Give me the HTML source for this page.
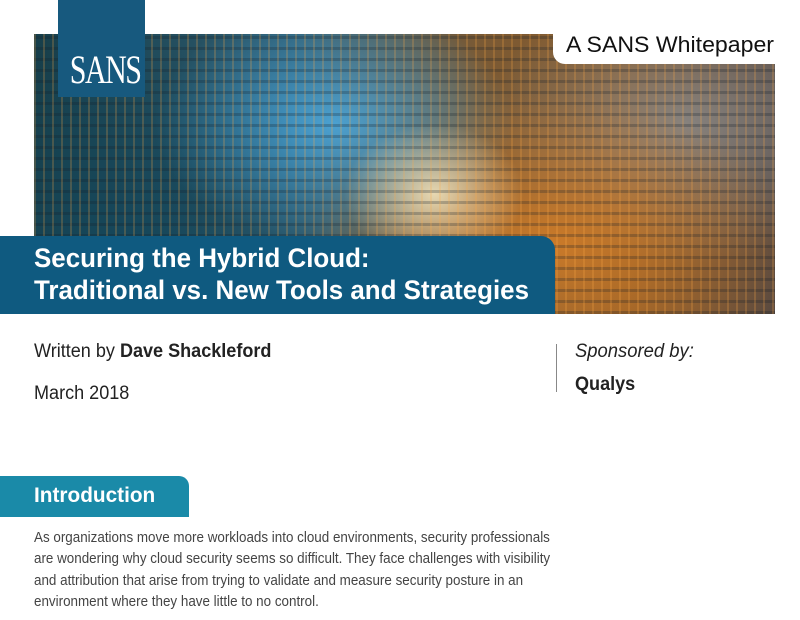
<!DOCTYPE html>
<html><head><meta charset="utf-8"><style>
*{margin:0;padding:0;box-sizing:border-box}
body{width:800px;height:620px;background:#fff;position:relative;overflow:hidden;font-family:"Liberation Sans",sans-serif;color:#222}
.img{position:absolute;left:34px;top:34px;width:741px;height:280px;overflow:hidden;
background:
repeating-linear-gradient(90deg,rgba(255,170,70,.22) 0 2px,transparent 2px 9px),
repeating-linear-gradient(0deg,rgba(20,30,40,.25) 0 3px,transparent 3px 11px),
radial-gradient(ellipse 90px 70px at 400px 160px,rgba(255,240,200,.8),transparent),
radial-gradient(ellipse 180px 120px at 300px 90px,rgba(80,190,255,.7),transparent),
radial-gradient(ellipse 240px 150px at 520px 210px,rgba(220,130,40,.8),transparent),
radial-gradient(ellipse 200px 200px at 100px 200px,rgba(20,70,90,.9),transparent),
radial-gradient(ellipse 200px 140px at 650px 90px,rgba(140,150,160,.7),transparent),
linear-gradient(90deg,#163e4a,#2f5c70 35%,#7a5a35 60%,#8a5a28 80%,#5a4a40);}
.sans{position:absolute;left:58px;top:0;width:87px;height:97px;background:#17597e;color:#fff;font-family:"Liberation Serif",serif;font-size:40px;text-align:center;padding-top:46px;letter-spacing:-2px}
.sans span{display:inline-block;transform:scaleX(.75)}
.tab{position:absolute;left:553px;top:34px;width:222px;height:30px;background:#fff;border-bottom-left-radius:12px;font-size:22px;color:#111;padding:0 0 0 13px;line-height:22px}
.tab span{display:inline-block;transform:scaleX(1.05);transform-origin:left;white-space:nowrap}
.title{position:absolute;left:0;top:236px;width:555px;height:78px;background:#0f5a80;border-top-right-radius:14px;color:#fff;font-weight:bold;font-size:27px;line-height:32px;padding:6px 0 0 34px}
.title div{transform:scaleX(.96);transform-origin:left;white-space:nowrap}
.t{position:absolute;white-space:nowrap;transform-origin:left}
.intro{position:absolute;left:0;top:476px;width:189px;height:41px;background:#1a8aa8;border-top-right-radius:10px;color:#fff;font-weight:bold;font-size:21px;padding:8px 0 0 34px}
.intro span{display:inline-block;transform:scaleX(.99);transform-origin:left}
.body{position:absolute;left:34px;top:528px;font-size:14.5px;line-height:21.3px;color:#444}
.body div{transform:scaleX(.925);transform-origin:left;white-space:nowrap}
</style></head><body>
<div class="img"></div>
<div class="sans"><span>SANS</span></div>
<div class="tab"><span>A SANS Whitepaper</span></div>
<div class="title"><div>Securing the Hybrid Cloud:</div><div>Traditional vs. New Tools and Strategies</div></div>
<div class="t" style="left:34px;top:341px;font-size:19px;transform:scaleX(.95)">Written by <b>Dave Shackleford</b></div>
<div class="t" style="left:34px;top:383px;font-size:19px;transform:scaleX(.95)">March 2018</div>
<div style="position:absolute;left:556px;top:344px;width:1px;height:48px;background:#888"></div>
<div class="t" style="left:575px;top:341px;font-size:19px;font-style:italic;transform:scaleX(.97)">Sponsored by:</div>
<div class="t" style="left:575px;top:374px;font-size:19px;font-weight:bold;transform:scaleX(.95)">Qualys</div>
<div class="intro"><span>Introduction</span></div>
<div class="body">
<div>As organizations move more workloads into cloud environments, security professionals</div>
<div>are wondering why cloud security seems so difficult. They face challenges with visibility</div>
<div>and attribution that arise from trying to validate and measure security posture in an</div>
<div>environment where they have little to no control.</div>
</div>
</body></html>
